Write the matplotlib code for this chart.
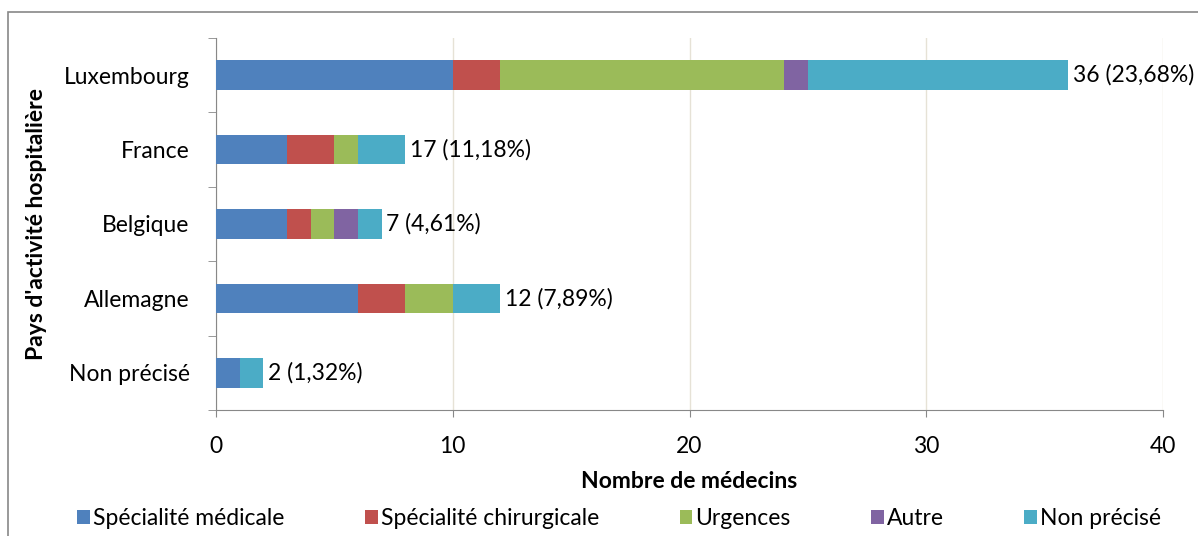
import numpy as np
import matplotlib
matplotlib.use("Agg")
from matplotlib import pyplot as plt
from matplotlib.patches import Rectangle

plt.rcParams['font.family'] = ['Lato', 'DejaVu Sans']

pays = ['Non précisé', 'Allemagne', 'Belgique', 'France', 'Luxembourg']
series = ['Spécialité médicale', 'Spécialité chirurgicale', 'Urgences', 'Autre', 'Non précisé']
medicale = [1, 6, 3, 3, 10]
chirurgicale = [0, 2, 1, 2, 2]
urgences = [0, 2, 1, 1, 12]
autre = [0, 0, 1, 0, 1]
non_precise = [1, 2, 1, 2, 11]
labels = ['2 (1,32%)', '12 (7,89%)', '7 (4,61%)', '17 (11,18%)', '36 (23,68%)']
colors = ['#4F81BD', '#C0504D', '#9BBB59', '#8064A2', '#4BACC6']

fs = 16.5
fig = plt.figure(figsize=(11.98, 5.36), dpi=100)
ax = fig.add_axes([216/1198, 1-410/536, (1163-216)/1198, (410-38)/536])

data = [medicale, chirurgicale, urgences, autre, non_precise]
y = np.arange(len(pays))
left = np.zeros(len(pays))
for vals, name, c in zip(data, series, colors):
    ax.barh(y, vals, left=left, height=0.4, color=c, label=name, zorder=3)
    left += np.array(vals)

for yi, tot, lab in zip(y, left, labels):
    ax.text(tot + 0.2, yi, lab, va='center', ha='left', fontsize=fs, clip_on=False)

ax.set_xlim(0, 40)
ax.set_ylim(-0.5, 4.5)
ax.set_xticks([0, 10, 20, 30, 40])
ax.tick_params(axis='x', labelsize=fs, length=5, color='#888888', pad=14)
ax.set_yticks(y)
ax.set_yticklabels(pays, fontsize=fs)
ax.set_yticks(np.arange(-0.5, 5, 1), minor=True)
ax.tick_params(axis='y', which='major', length=0, pad=19)
ax.tick_params(axis='y', which='minor', length=6, color='#888888')
ax.grid(axis='x', color='#E6E2D6', linewidth=1, zorder=0)
for s in ['top', 'right']:
    ax.spines[s].set_visible(False)
for s in ['left', 'bottom']:
    ax.spines[s].set_color('#888888')

ax.set_xlabel('Nombre de médecins', fontsize=fs, fontweight='bold', labelpad=10)
ax.set_ylabel("Pays d'activité hospitalière", fontsize=fs, fontweight='bold')
ax.yaxis.set_label_coords(-0.178, 0.5)

fig.legend(loc='lower center', bbox_to_anchor=(0.517, -0.025), ncol=5, frameon=False,
           fontsize=fs, handlelength=0.55, handleheight=0.55, handletextpad=0.15,
           columnspacing=3.5)

fig.patches.append(Rectangle((8/1198, -0.1), 1.2, 1-12/536+0.1, transform=fig.transFigure,
                             fill=False, edgecolor='#888888', linewidth=1.2))

fig.savefig('out.png', dpi=100)
